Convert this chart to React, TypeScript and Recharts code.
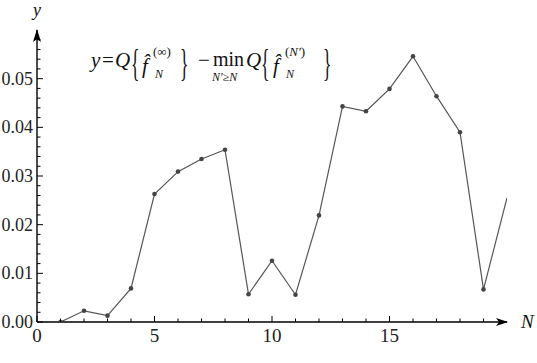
import { LineChart, Line, XAxis, YAxis, ReferenceDot } from 'recharts';

const nValues = [1, 2, 3, 4, 5, 6, 7, 8, 9, 10, 11, 12, 13, 14, 15, 16, 17, 18, 19, 20];
const yValues = [
  0.0, 0.0023, 0.0013, 0.0069, 0.0263, 0.0309, 0.0335, 0.0354, 0.0057, 0.0126,
  0.0056, 0.0219, 0.0443, 0.0433, 0.0479, 0.0546, 0.0464, 0.039, 0.0067, 0.0255,
];
const xTicks = [0, 1, 2, 3, 4, 5, 6, 7, 8, 9, 10, 11, 12, 13, 14, 15, 16, 17, 18, 19];
const yTicks = Array.from({ length: 30 }, (_, i) => Math.round(i * 2) / 1000);

const data = nValues.map((n, i) => ({ n, y: yValues[i] }));

const SERIF = 'Liberation Serif, DejaVu Serif, serif';
const INK = '#222';

const XTick = (props: any) => {
  const { x, y, payload } = props;
  const v = payload.value;
  const major = v % 5 === 0;
  return (
    <g>
      <line x1={x} y1={y} x2={x} y2={y - (major ? 6 : 3.5)} stroke="#000" strokeWidth={1} />
      {major && (
        <text x={x} y={y + 20} textAnchor="middle" style={{ fontFamily: SERIF }} fontSize={19} fill={INK}>
          {v}
        </text>
      )}
    </g>
  );
};

const YTick = (props: any) => {
  const { x, y, payload } = props;
  const v = payload.value;
  const major = Math.round(v * 1000) % 10 === 0;
  return (
    <g>
      <line x1={x} y1={y} x2={x + (major ? 6 : 3.5)} y2={y} stroke="#000" strokeWidth={1} />
      {major && (
        <text x={x - 4} y={y + 6} textAnchor="end" style={{ fontFamily: SERIF }} fontSize={18} fill={INK}>
          {v.toFixed(2)}
        </text>
      )}
    </g>
  );
};

const Dot = (props: any) => {
  const { cx, cy, index } = props;
  if (index === data.length - 1) return <g key={index} />;
  return <circle key={index} cx={cx} cy={cy} r={2.3} fill="#444" />;
};

const ArrowRight = (p: any) => (
  <path d={`M${p.cx + 1},${p.cy} L${p.cx - 11},${p.cy - 4} L${p.cx - 8},${p.cy} L${p.cx - 11},${p.cy + 4} Z`} fill="#000" />
);
const ArrowUp = (p: any) => (
  <path d={`M${p.cx},${p.cy - 1} L${p.cx - 4},${p.cy + 12} L${p.cx},${p.cy + 9} L${p.cx + 4},${p.cy + 12} Z`} fill="#000" />
);

function Formula() {
  const it = { style: { fontFamily: SERIF, fontStyle: 'italic' as const }, fill: '#111' };
  const rm = { style: { fontFamily: SERIF }, fill: '#111' };
  const brace = (x: number, ch: string) => (
    <text transform={`translate(${x},76) scale(0.8,1.7)`} fontSize={22} {...rm}>
      {ch}
    </text>
  );
  return (
    <svg
      width={537}
      height={363}
      style={{ position: 'absolute', left: 0, top: 0, pointerEvents: 'none' }}
    >
      <text x={33} y={16} fontSize={18} {...it}>y</text>
      <text x={521} y={328} fontSize={19} {...it}>N</text>

      <text x={91} y={67} fontSize={21} {...it}>y</text>
      <text x={102} y={67} fontSize={21} {...rm}>=</text>
      <text x={115} y={67} fontSize={21} {...it}>Q</text>
      {brace(131, '{')}
      <text x={142} y={73} fontSize={21} {...it}>{'f\u0302'}</text>
      <text x={153} y={56} fontSize={13} {...rm}>(∞)</text>
      <text x={155} y={78} fontSize={12} {...it}>N</text>
      {brace(180, '}')}
      <text x={198} y={67} fontSize={21} {...rm}>−</text>
      <text x={213} y={66} fontSize={20} {...rm}>min</text>
      <text x={212} y={81} fontSize={12} {...it}>N′≥N</text>
      <text x={246} y={67} fontSize={21} {...it}>Q</text>
      {brace(261, '{')}
      <text x={273} y={73} fontSize={21} {...it}>{'f\u0302'}</text>
      <text x={285} y={56} fontSize={13} {...rm}>(<tspan style={{ fontStyle: 'italic' }}>N′</tspan>)</text>
      <text x={286} y={78} fontSize={12} {...it}>N</text>
      {brace(323, '}')}
    </svg>
  );
}

export default function App() {
  return (
    <div style={{ position: 'absolute', left: 0, top: 0, width: 537, height: 363, background: '#fff' }}>
      <LineChart width={537} height={363} data={data} margin={{ top: 30, right: 30, left: 0, bottom: 0 }}>
        <XAxis
          dataKey="n"
          type="number"
          domain={[0, 20]}
          ticks={xTicks}
          interval={0}
          height={41}
          tickSize={0}
          tickMargin={0}
          tickLine={false}
          axisLine={{ stroke: '#000', strokeWidth: 1.4 }}
          tick={XTick}
          allowDataOverflow
        />
        <YAxis
          type="number"
          domain={[0, 0.06]}
          ticks={yTicks}
          interval={0}
          width={37}
          tickSize={0}
          tickMargin={0}
          tickLine={false}
          axisLine={{ stroke: '#000', strokeWidth: 1.4 }}
          tick={YTick}
          allowDataOverflow
        />
        <Line
          type="linear"
          dataKey="y"
          stroke="#555"
          strokeWidth={1.2}
          dot={Dot}
          activeDot={false}
          isAnimationActive={false}
        />
        <ReferenceDot x={20} y={0} r={0} ifOverflow="visible" shape={ArrowRight} />
        <ReferenceDot x={0} y={0.06} r={0} ifOverflow="visible" shape={ArrowUp} />
      </LineChart>
      <Formula />
    </div>
  );
}
